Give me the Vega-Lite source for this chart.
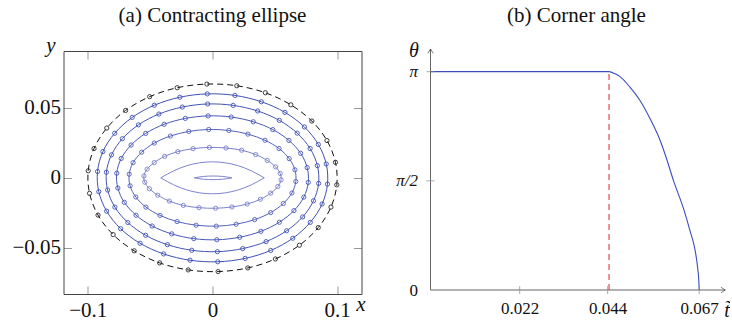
{
  "$schema": "https://vega.github.io/schema/vega-lite/v6.json",
  "padding": {"left": 11.5, "top": 5, "right": 0, "bottom": 0},
  "bounds": "flush",
  "spacing": 69,
  "config": {
    "font": "Liberation Serif",
    "view": {"stroke": null},
    "title": {"font": "Liberation Serif", "fontSize": 21, "fontWeight": "normal", "color": "#111", "anchor": "middle"},
    "axis": {"grid": false, "labelFont": "Liberation Serif", "titleFont": "Liberation Serif", "labelColor": "#111", "titleColor": "#111", "titleFontWeight": "normal"}
  },
  "datasets": {
    "ell": [
      {"c":"D","k":0,"x":-0.0045,"y":0.0669},{"c":"D","k":1,"x":0.0195,"y":0.0657},{"c":"D","k":2,"x":0.0424,"y":0.0607},{"c":"D","k":3,"x":0.0628,"y":0.0521},{"c":"D","k":4,"x":0.0797,"y":0.0405},{"c":"D","k":5,"x":0.0918,"y":0.0266},{"c":"D","k":6,"x":0.0986,"y":0.0111},{"c":"D","k":7,"x":0.0997,"y":-0.005},{"c":"D","k":8,"x":0.095,"y":-0.0209},{"c":"D","k":9,"x":0.0848,"y":-0.0355},{"c":"D","k":10,"x":0.0697,"y":-0.0481},{"c":"D","k":11,"x":0.0504,"y":-0.0579},{"c":"D","k":12,"x":0.0283,"y":-0.0643},
      {"c":"D","k":13,"x":0.0045,"y":-0.0669},{"c":"D","k":14,"x":-0.0195,"y":-0.0657},{"c":"D","k":15,"x":-0.0424,"y":-0.0607},{"c":"D","k":16,"x":-0.0628,"y":-0.0521},{"c":"D","k":17,"x":-0.0797,"y":-0.0405},{"c":"D","k":18,"x":-0.0918,"y":-0.0266},{"c":"D","k":19,"x":-0.0986,"y":-0.0111},{"c":"D","k":20,"x":-0.0997,"y":0.005},{"c":"D","k":21,"x":-0.095,"y":0.0209},{"c":"D","k":22,"x":-0.0848,"y":0.0355},{"c":"D","k":23,"x":-0.0697,"y":0.0481},{"c":"D","k":24,"x":-0.0504,"y":0.0579},{"c":"D","k":25,"x":-0.0283,"y":0.0643},
      {"c":"B1","k":0,"x":-0.0042,"y":0.0599},{"c":"B1","k":1,"x":0.018,"y":0.0588},{"c":"B1","k":2,"x":0.0392,"y":0.0543},{"c":"B1","k":3,"x":0.0581,"y":0.0467},{"c":"B1","k":4,"x":0.0737,"y":0.0363},{"c":"B1","k":5,"x":0.0849,"y":0.0238},{"c":"B1","k":6,"x":0.0912,"y":0.0099},{"c":"B1","k":7,"x":0.0922,"y":-0.0045},{"c":"B1","k":8,"x":0.0879,"y":-0.0187},{"c":"B1","k":9,"x":0.0784,"y":-0.0318},{"c":"B1","k":10,"x":0.0644,"y":-0.0431},{"c":"B1","k":11,"x":0.0467,"y":-0.0518},{"c":"B1","k":12,"x":0.0262,"y":-0.0575},
      {"c":"B1","k":13,"x":0.0042,"y":-0.0599},{"c":"B1","k":14,"x":-0.018,"y":-0.0588},{"c":"B1","k":15,"x":-0.0392,"y":-0.0543},{"c":"B1","k":16,"x":-0.0581,"y":-0.0467},{"c":"B1","k":17,"x":-0.0737,"y":-0.0363},{"c":"B1","k":18,"x":-0.0849,"y":-0.0238},{"c":"B1","k":19,"x":-0.0912,"y":-0.0099},{"c":"B1","k":20,"x":-0.0922,"y":0.0045},{"c":"B1","k":21,"x":-0.0879,"y":0.0187},{"c":"B1","k":22,"x":-0.0784,"y":0.0318},{"c":"B1","k":23,"x":-0.0644,"y":0.0431},{"c":"B1","k":24,"x":-0.0467,"y":0.0518},{"c":"B1","k":25,"x":-0.0262,"y":0.0575},
      {"c":"B2","k":0,"x":-0.0039,"y":0.0527},{"c":"B2","k":1,"x":0.0166,"y":0.0517},{"c":"B2","k":2,"x":0.0362,"y":0.0477},{"c":"B2","k":3,"x":0.0536,"y":0.041},{"c":"B2","k":4,"x":0.0679,"y":0.0319},{"c":"B2","k":5,"x":0.0783,"y":0.0209},{"c":"B2","k":6,"x":0.0841,"y":0.0087},{"c":"B2","k":7,"x":0.0851,"y":-0.004},{"c":"B2","k":8,"x":0.081,"y":-0.0164},{"c":"B2","k":9,"x":0.0723,"y":-0.0279},{"c":"B2","k":10,"x":0.0594,"y":-0.0378},{"c":"B2","k":11,"x":0.043,"y":-0.0455},{"c":"B2","k":12,"x":0.0242,"y":-0.0505},
      {"c":"B2","k":13,"x":0.0039,"y":-0.0527},{"c":"B2","k":14,"x":-0.0166,"y":-0.0517},{"c":"B2","k":15,"x":-0.0362,"y":-0.0477},{"c":"B2","k":16,"x":-0.0536,"y":-0.041},{"c":"B2","k":17,"x":-0.0679,"y":-0.0319},{"c":"B2","k":18,"x":-0.0783,"y":-0.0209},{"c":"B2","k":19,"x":-0.0841,"y":-0.0087},{"c":"B2","k":20,"x":-0.0851,"y":0.004},{"c":"B2","k":21,"x":-0.081,"y":0.0164},{"c":"B2","k":22,"x":-0.0723,"y":0.0279},{"c":"B2","k":23,"x":-0.0594,"y":0.0378},{"c":"B2","k":24,"x":-0.043,"y":0.0455},{"c":"B2","k":25,"x":-0.0242,"y":0.0505},
      {"c":"B3","k":0,"x":-0.0035,"y":0.0442},{"c":"B3","k":1,"x":0.015,"y":0.0434},{"c":"B3","k":2,"x":0.0327,"y":0.04},{"c":"B3","k":3,"x":0.0484,"y":0.0344},{"c":"B3","k":4,"x":0.0613,"y":0.0267},{"c":"B3","k":5,"x":0.0707,"y":0.0175},{"c":"B3","k":6,"x":0.0759,"y":0.0073},{"c":"B3","k":7,"x":0.0768,"y":-0.0033},{"c":"B3","k":8,"x":0.0732,"y":-0.0138},{"c":"B3","k":9,"x":0.0653,"y":-0.0234},{"c":"B3","k":10,"x":0.0536,"y":-0.0317},{"c":"B3","k":11,"x":0.0388,"y":-0.0382},{"c":"B3","k":12,"x":0.0218,"y":-0.0424},
      {"c":"B3","k":13,"x":0.0035,"y":-0.0442},{"c":"B3","k":14,"x":-0.015,"y":-0.0434},{"c":"B3","k":15,"x":-0.0327,"y":-0.04},{"c":"B3","k":16,"x":-0.0484,"y":-0.0344},{"c":"B3","k":17,"x":-0.0613,"y":-0.0267},{"c":"B3","k":18,"x":-0.0707,"y":-0.0175},{"c":"B3","k":19,"x":-0.0759,"y":-0.0073},{"c":"B3","k":20,"x":-0.0768,"y":0.0033},{"c":"B3","k":21,"x":-0.0732,"y":0.0138},{"c":"B3","k":22,"x":-0.0653,"y":0.0234},{"c":"B3","k":23,"x":-0.0536,"y":0.0317},{"c":"B3","k":24,"x":-0.0388,"y":0.0382},{"c":"B3","k":25,"x":-0.0218,"y":0.0424},
      {"c":"B4","k":0,"x":-0.003,"y":0.0345},{"c":"B4","k":1,"x":0.0131,"y":0.0338},{"c":"B4","k":2,"x":0.0284,"y":0.0312},{"c":"B4","k":3,"x":0.0421,"y":0.0268},{"c":"B4","k":4,"x":0.0534,"y":0.0209},{"c":"B4","k":5,"x":0.0615,"y":0.0137},{"c":"B4","k":6,"x":0.0661,"y":0.0057},{"c":"B4","k":7,"x":0.0668,"y":-0.0026},{"c":"B4","k":8,"x":0.0637,"y":-0.0108},{"c":"B4","k":9,"x":0.0568,"y":-0.0183},{"c":"B4","k":10,"x":0.0467,"y":-0.0248},{"c":"B4","k":11,"x":0.0338,"y":-0.0298},{"c":"B4","k":12,"x":0.019,"y":-0.0331},
      {"c":"B4","k":13,"x":0.003,"y":-0.0345},{"c":"B4","k":14,"x":-0.0131,"y":-0.0338},{"c":"B4","k":15,"x":-0.0284,"y":-0.0312},{"c":"B4","k":16,"x":-0.0421,"y":-0.0268},{"c":"B4","k":17,"x":-0.0534,"y":-0.0209},{"c":"B4","k":18,"x":-0.0615,"y":-0.0137},{"c":"B4","k":19,"x":-0.0661,"y":-0.0057},{"c":"B4","k":20,"x":-0.0668,"y":0.0026},{"c":"B4","k":21,"x":-0.0637,"y":0.0108},{"c":"B4","k":22,"x":-0.0568,"y":0.0183},{"c":"B4","k":23,"x":-0.0467,"y":0.0248},{"c":"B4","k":24,"x":-0.0338,"y":0.0298},{"c":"B4","k":25,"x":-0.019,"y":0.0331},
      {"c":"B5","k":0,"x":-0.0025,"y":0.0217},{"c":"B5","k":1,"x":0.0108,"y":0.0213},{"c":"B5","k":2,"x":0.0234,"y":0.0197},{"c":"B5","k":3,"x":0.0346,"y":0.0166},{"c":"B5","k":4,"x":0.0439,"y":0.0124},{"c":"B5","k":5,"x":0.0506,"y":0.0078},{"c":"B5","k":6,"x":0.0543,"y":0.0031},{"c":"B5","k":7,"x":0.055,"y":-0.0014},{"c":"B5","k":8,"x":0.0524,"y":-0.0062},{"c":"B5","k":9,"x":0.0467,"y":-0.0109},{"c":"B5","k":10,"x":0.0384,"y":-0.0153},{"c":"B5","k":11,"x":0.0278,"y":-0.0187},{"c":"B5","k":12,"x":0.0156,"y":-0.0208},
      {"c":"B5","k":13,"x":0.0025,"y":-0.0217},{"c":"B5","k":14,"x":-0.0108,"y":-0.0213},{"c":"B5","k":15,"x":-0.0234,"y":-0.0197},{"c":"B5","k":16,"x":-0.0346,"y":-0.0166},{"c":"B5","k":17,"x":-0.0439,"y":-0.0124},{"c":"B5","k":18,"x":-0.0506,"y":-0.0078},{"c":"B5","k":19,"x":-0.0543,"y":-0.0031},{"c":"B5","k":20,"x":-0.055,"y":0.0014},{"c":"B5","k":21,"x":-0.0524,"y":0.0062},{"c":"B5","k":22,"x":-0.0467,"y":0.0109},{"c":"B5","k":23,"x":-0.0384,"y":0.0153},{"c":"B5","k":24,"x":-0.0278,"y":0.0187},{"c":"B5","k":25,"x":-0.0156,"y":0.0208}
    ],
    "lens": [
      {"c":"B6","s":"B6t","x":-0.0415,"y":0},{"c":"B6","s":"B6t","x":-0.0311,"y":0.005},{"c":"B6","s":"B6t","x":-0.0208,"y":0.0086},{"c":"B6","s":"B6t","x":-0.0104,"y":0.0107},{"c":"B6","s":"B6t","x":0,"y":0.0114},{"c":"B6","s":"B6t","x":0.0104,"y":0.0107},{"c":"B6","s":"B6t","x":0.0208,"y":0.0086},{"c":"B6","s":"B6t","x":0.0311,"y":0.005},{"c":"B6","s":"B6t","x":0.0415,"y":0},
      {"c":"B6","s":"B6b","x":-0.0415,"y":0},{"c":"B6","s":"B6b","x":-0.0311,"y":-0.005},{"c":"B6","s":"B6b","x":-0.0208,"y":-0.0086},{"c":"B6","s":"B6b","x":-0.0104,"y":-0.0107},{"c":"B6","s":"B6b","x":0,"y":-0.0114},{"c":"B6","s":"B6b","x":0.0104,"y":-0.0107},{"c":"B6","s":"B6b","x":0.0208,"y":-0.0086},{"c":"B6","s":"B6b","x":0.0311,"y":-0.005},{"c":"B6","s":"B6b","x":0.0415,"y":0},
      {"c":"B7","s":"B7t","x":-0.0146,"y":0},{"c":"B7","s":"B7t","x":-0.0071,"y":0.001},{"c":"B7","s":"B7t","x":0.0005,"y":0.0013},{"c":"B7","s":"B7t","x":0.0081,"y":0.001},{"c":"B7","s":"B7t","x":0.0156,"y":0},
      {"c":"B7","s":"B7b","x":-0.0146,"y":0},{"c":"B7","s":"B7b","x":-0.0071,"y":-0.001},{"c":"B7","s":"B7b","x":0.0005,"y":-0.0013},{"c":"B7","s":"B7b","x":0.0081,"y":-0.001},{"c":"B7","s":"B7b","x":0.0156,"y":0}
    ],
    "th": [
      {"t":0,"th":3.1416},{"t":0.02,"th":3.1416},{"t":0.04445,"th":3.1416},{"t":0.046,"th":3.11},{"t":0.0472,"th":3.07},{"t":0.0497,"th":2.916},{"t":0.0522,"th":2.724},{"t":0.0547,"th":2.461},{"t":0.0572,"th":2.148},{"t":0.0588,"th":1.885},{"t":0.0605,"th":1.573},{"t":0.063,"th":1.17},{"t":0.0646,"th":0.853},{"t":0.0659,"th":0.566},{"t":0.0665,"th":0.325},{"t":0.0668,"th":0.134},{"t":0.0669,"th":0}
    ]
  },
  "hconcat": [
    {
      "width": 298,
      "height": 243,
      "title": {"text": "(a) Contracting ellipse", "offset": 8},
      "resolve": {"axis": {"x": "independent", "y": "independent"}},
      "layer": [
        {
          "data": {"name": "ell"},
          "transform": [{"filter": "datum.c == 'D'"}],
          "mark": {"type": "line", "interpolate": "cardinal-closed", "strokeDash": [6, 4], "color": "#111", "strokeWidth": 1},
          "encoding": {
            "x": {"field": "x", "type": "quantitative", "scale": {"domain": [-0.1195, 0.1195], "nice": false, "zero": false},
              "axis": {"orient": "bottom", "values": [-0.1, 0, 0.1], "format": "~g", "labelFont": "Liberation Serif", "labelFontSize": 21, "tickSize": -8, "tickColor": "#999", "domainColor": "#444", "labelPadding": 13,
                "title": "x", "titleFont": "Liberation Serif", "titleFontStyle": "italic", "titleFontSize": 21, "titleX": 297, "titleY": 16, "titleAlign": "center", "titleBaseline": "alphabetic"}},
            "y": {"field": "y", "type": "quantitative", "scale": {"domain": [-0.0829, 0.0905], "nice": false, "zero": false},
              "axis": {"orient": "left", "values": [-0.05, 0, 0.05], "format": "~g", "labelFont": "Liberation Serif", "labelFontSize": 21, "tickSize": -8, "tickColor": "#999", "domainColor": "#444", "labelPadding": 11,
                "title": "y", "titleAngle": 0, "titleFont": "Liberation Serif", "titleFontStyle": "italic", "titleFontSize": 21, "titleX": -13, "titleY": 0, "titleAlign": "center", "titleBaseline": "alphabetic"}},
            "order": {"field": "k", "type": "quantitative"}
          }
        },
        {
          "data": {"name": "ell"},
          "transform": [{"filter": "datum.c != 'D'"}],
          "mark": {"type": "line", "interpolate": "cardinal-closed", "strokeWidth": 1},
          "encoding": {
            "x": {"field": "x", "type": "quantitative", "axis": {"orient": "top", "values": [-0.1, 0, 0.1], "labels": false, "tickSize": -8, "tickColor": "#999", "domainColor": "#444", "title": null}},
            "y": {"field": "y", "type": "quantitative", "axis": {"orient": "right", "values": [-0.05, 0, 0.05], "labels": false, "tickSize": -8, "tickColor": "#999", "domainColor": "#444", "title": null}},
            "order": {"field": "k", "type": "quantitative"},
            "detail": {"field": "c"},
            "color": {"field": "c", "type": "nominal", "legend": null,
              "scale": {"domain": ["D", "B1", "B2", "B3", "B4", "B5", "B6", "B7"], "range": ["#2a2a2a", "#3f51b2", "#4354b5", "#4858b7", "#5361bc", "#7a81cc", "#7d84cf", "#7d84cf"]}}
          }
        },
        {
          "data": {"name": "lens"},
          "mark": {"type": "line", "interpolate": "monotone", "strokeWidth": 1},
          "encoding": {
            "x": {"field": "x", "type": "quantitative", "axis": null},
            "y": {"field": "y", "type": "quantitative", "axis": null},
            "detail": {"field": "s"},
            "color": {"field": "c", "type": "nominal", "legend": null}
          }
        },
        {
          "data": {"name": "ell"},
          "mark": {"type": "point", "shape": "circle", "filled": false, "size": 18, "strokeWidth": 0.9, "opacity": 1},
          "encoding": {
            "x": {"field": "x", "type": "quantitative", "axis": null},
            "y": {"field": "y", "type": "quantitative", "axis": null},
            "color": {"field": "c", "type": "nominal", "legend": null}
          }
        }
      ]
    },
    {
      "width": 292,
      "height": 239,
      "title": {"text": "(b) Corner angle", "offset": 14},
      "layer": [
        {
          "data": {"name": "th"},
          "mark": {"type": "line", "interpolate": "monotone", "color": "#3b4cc0", "strokeWidth": 1.1},
          "encoding": {
            "x": {"field": "t", "type": "quantitative", "scale": {"domain": [0, 0.0727], "nice": false, "zero": false},
              "axis": {"values": [0.0222, 0.0441, 0.0669], "labelExpr": "datum.value < 0.03 ? '0.022' : datum.value < 0.05 ? '0.044' : '0.067'", "ticks": false, "domain": false, "labelFont": "Liberation Serif", "labelFontSize": 17, "labelPadding": 10,
                "title": "t̃", "titleFont": "Liberation Serif", "titleFontStyle": "italic", "titleFontSize": 20, "titleX": 296, "titleY": 26, "titleAlign": "center", "titleBaseline": "alphabetic"}},
            "y": {"field": "th", "type": "quantitative", "scale": {"domain": [0, 3.439], "nice": false, "zero": false},
              "axis": {"values": [0, 1.5708, 3.1416], "labelExpr": "datum.value > 3 ? 'π' : datum.value > 1 ? 'π/2' : '0'", "ticks": false, "domain": false, "labelFont": "Liberation Serif", "labelFontSize": 17, "labelPadding": 13,
                "labelFontStyle": {"condition": {"test": "datum.value > 1", "value": "italic"}, "value": "normal"},
                "title": "θ", "titleAngle": 0, "titleFont": "Liberation Serif", "titleFontStyle": "italic", "titleFontSize": 20, "titleX": -17, "titleY": 5, "titleAlign": "center", "titleBaseline": "alphabetic"}}
          }
        },
        {
          "data": {"values": [{"ax0": 0, "ax1": 0.0734, "axv": 0}]},
          "mark": {"type": "rule", "color": "#666", "strokeWidth": 1},
          "encoding": {"x": {"field": "ax0", "type": "quantitative"}, "x2": {"field": "ax1"}, "y": {"field": "axv", "type": "quantitative"}}
        },
        {
          "data": {"values": [{"ay": 0, "ay0": 0, "ay1": 3.468}]},
          "mark": {"type": "rule", "color": "#666", "strokeWidth": 1},
          "encoding": {"x": {"field": "ay", "type": "quantitative"}, "y": {"field": "ay0", "type": "quantitative"}, "y2": {"field": "ay1"}}
        },
        {
          "data": {"values": [{"tr": 0.04445, "r0": 0, "r1": 3.1416}]},
          "mark": {"type": "rule", "stroke": "#e0393e", "color": "#e0393e", "strokeDash": [6, 4], "strokeWidth": 1.1},
          "encoding": {"x": {"field": "tr", "type": "quantitative"}, "y": {"field": "r0", "type": "quantitative"}, "y2": {"field": "r1"}}
        },
        {
          "data": {"values": [{"tk": 0.0222}, {"tk": 0.0441}, {"tk": 0.0669}]},
          "mark": {"type": "tick", "orient": "vertical", "size": 8, "thickness": 1, "color": "#888"},
          "encoding": {"x": {"field": "tk", "type": "quantitative"}, "y": {"datum": 0}}
        },
        {
          "data": {"values": [{"hk": 1.5708}, {"hk": 3.1416}]},
          "mark": {"type": "tick", "orient": "horizontal", "size": 8, "thickness": 1, "color": "#888"},
          "encoding": {"x": {"datum": 0}, "y": {"field": "hk", "type": "quantitative"}}
        },
        {
          "data": {"values": [{"px": 0.0734, "py": 0}]},
          "mark": {"type": "point", "shape": "M -1.6 -1 L 0 0 L -1.6 1", "filled": false, "size": 30, "color": "#444", "strokeWidth": 1},
          "encoding": {"x": {"field": "px", "type": "quantitative"}, "y": {"field": "py", "type": "quantitative"}}
        },
        {
          "data": {"values": [{"qx": 0, "qy": 3.468}]},
          "mark": {"type": "point", "shape": "M -1 1.6 L 0 0 L 1 1.6", "filled": false, "size": 30, "color": "#444", "strokeWidth": 1},
          "encoding": {"x": {"field": "qx", "type": "quantitative"}, "y": {"field": "qy", "type": "quantitative"}}
        }
      ]
    }
  ]
}
